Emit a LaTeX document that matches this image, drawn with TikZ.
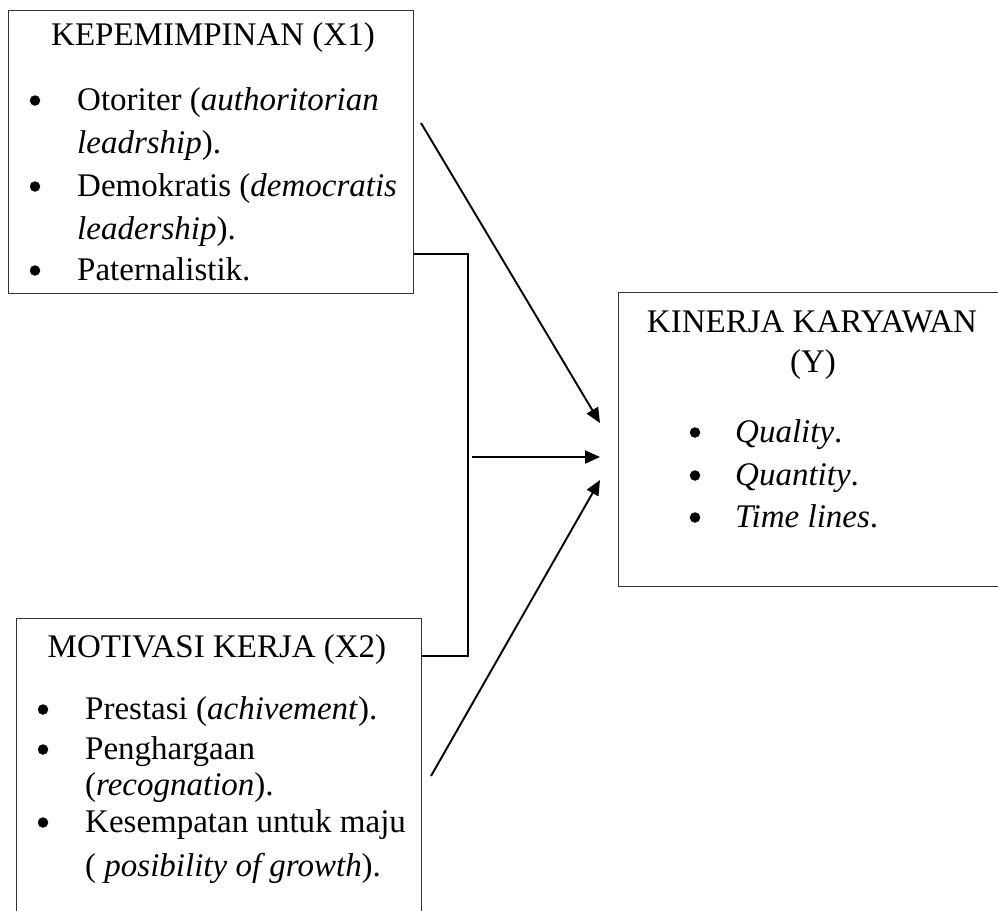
\documentclass[tikz,border=0pt]{standalone}
\usepackage{fontspec}
\setmainfont{Liberation Serif}
\usetikzlibrary{arrows.meta}
\begin{document}
\begin{tikzpicture}[x=1pt,y=-1pt,
  box/.style={draw=black!80,line width=0.9pt,inner sep=0pt,anchor=north west},
  txt/.style={inner sep=0pt,anchor=base west,font=\fontsize{33}{40}\selectfont},
  ttl/.style={inner sep=0pt,anchor=base,font=\fontsize{33}{40}\selectfont},
  bul/.style={circle,fill=black,inner sep=0pt,minimum size=10.5pt,yshift=9.5pt},
  conn/.style={line width=1.9pt,black},
  arr/.style={conn,-{Triangle[length=15pt,width=13pt]}}]
\useasboundingbox (0,0) rectangle (998,910);
% boxes
\node[box,minimum width=405pt,minimum height=283pt] (x1) at (8,10) {};
\node[box,minimum width=390pt,minimum height=294pt] (y) at (618,292) {};
\node[box,minimum width=405pt,minimum height=310pt] (x2) at (16,618) {};
% top box text
\node[ttl] (t1) at (213,45) {KEPEMIMPINAN (X1)};
\node[bul] (b11) at (35,110) {};
\node[txt] (l11) at (77,110) {Otoriter (\textit{authoritorian}};
\node[txt] (l12) at (77,153) {\textit{leadrship}).};
\node[bul] (b12) at (35,196) {};
\node[txt] (l13) at (77,196) {Demokratis (\textit{democratis}};
\node[txt] (l14) at (77,239) {\textit{leadership}).};
\node[bul] (b13) at (35,280) {};
\node[txt] (l15) at (77,280) {Paternalistik.};
% right box text
\node[ttl] (t3) at (812,332) {KINERJA KARYAWAN};
\node[ttl] (t3b) at (813,372) {(Y)};
\node[bul] (b31) at (695,442) {};
\node[txt] (l31) at (735,442) {\textit{Quality}.};
\node[bul] (b32) at (695,485) {};
\node[txt] (l32) at (735,485) {\textit{Quantity}.};
\node[bul] (b33) at (695,527) {};
\node[txt] (l33) at (735,527) {\textit{Time lines}.};
% bottom box text
\node[ttl] (t2) at (217,657) {MOTIVASI KERJA (X2)};
\node[bul] (b21) at (43,719) {};
\node[txt] (l21) at (85,719) {Prestasi (\textit{achivement}).};
\node[bul] (b22) at (43,759) {};
\node[txt] (l22) at (85,759) {Penghargaan};
\node[txt] (l23) at (85,795) {(\textit{recognation}).};
\node[bul] (b23) at (43,832) {};
\node[txt] (l24) at (85,832) {Kesempatan untuk maju};
\node[txt] (l25) at (85,876) {( \textit{posibility of growth}).};
% connector points
\coordinate (j1) at (468,254);
\coordinate (j2) at (468,656);
\coordinate (ms) at (472,457);
\coordinate (tipm) at (600,457);
\coordinate (ds1) at (421,123);
\coordinate (tip1) at (600,423);
\coordinate (ds2) at (431,776);
\coordinate (tip2) at (600,480);
% connectors
\draw[conn] (x1.east |- j1) -- (j1) -- (j2) -- (x2.east |- j2);
\draw[arr] (ms) -- (tipm);
\draw[arr] (ds1) -- (tip1);
\draw[arr] (ds2) -- (tip2);
\end{tikzpicture}
\end{document}
